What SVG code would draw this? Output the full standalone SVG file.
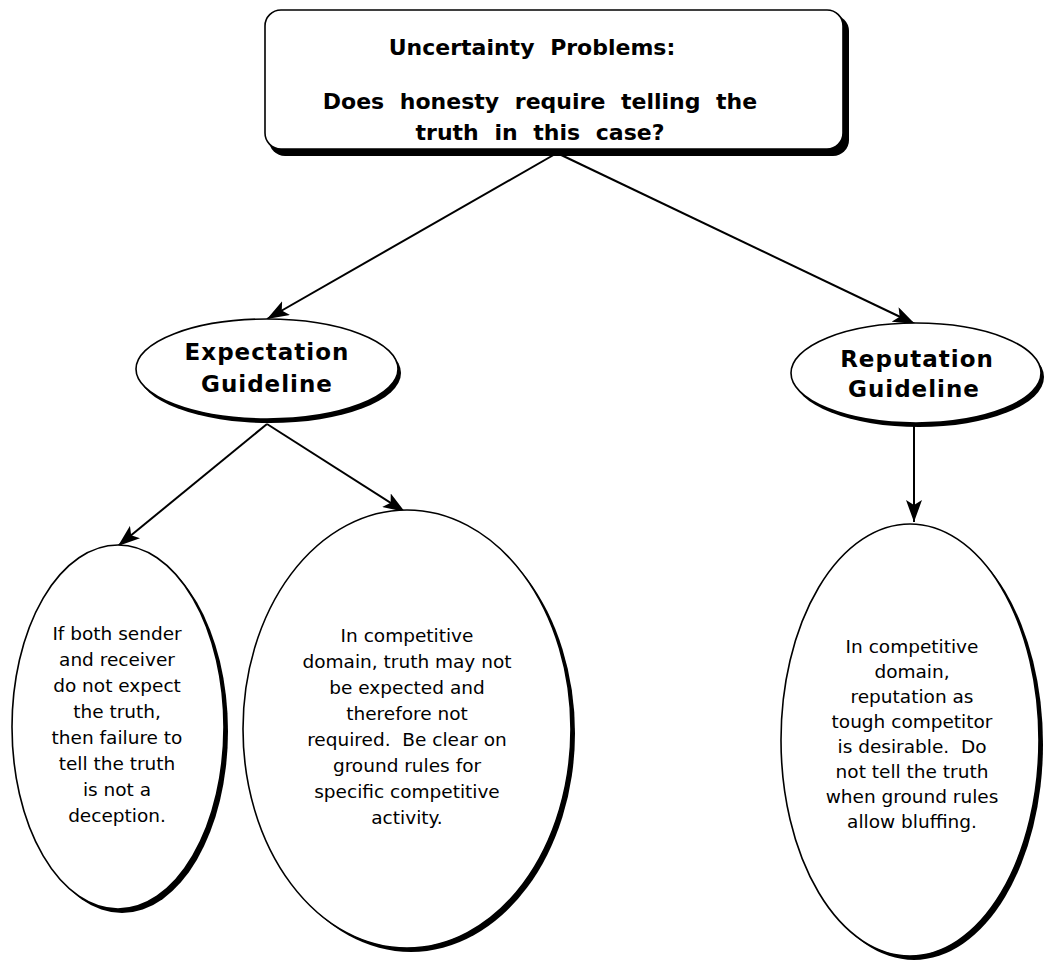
<svg xmlns="http://www.w3.org/2000/svg" width="1046" height="962" viewBox="0 0 1046 962">
<style>
.bg{fill:#ffffff}
.sh{fill:#000000}
.nd{fill:#ffffff;stroke:#000000;stroke-width:1.6}
.hd{font-family:"DejaVu Sans",sans-serif;font-weight:bold;font-size:22px;text-anchor:middle;word-spacing:8px;fill:#000}
.gl{font-family:"DejaVu Sans",sans-serif;font-weight:bold;font-size:23px;text-anchor:middle;letter-spacing:1px;fill:#000}
.bd{font-family:"DejaVu Sans",sans-serif;font-size:18.5px;text-anchor:middle;fill:#000}
.cn{stroke:#000;stroke-width:2;fill:none}
</style>
<defs>
<marker id="ah" markerUnits="userSpaceOnUse" markerWidth="24" markerHeight="16" refX="22" refY="8" orient="auto">
<path d="M0,0 L22,8 L0,16 L5,8 Z" fill="#000"/>
</marker>
</defs>
<rect class="bg" x="0" y="0" width="1046" height="962"/>
<g id="connectors">
<line class="cn" x1="557" y1="153" x2="267" y2="319" marker-end="url(#ah)"/>
<line class="cn" x1="557" y1="153" x2="915" y2="324" marker-end="url(#ah)"/>
<line class="cn" x1="267" y1="424" x2="118" y2="546" marker-end="url(#ah)"/>
<line class="cn" x1="267" y1="424" x2="405" y2="512" marker-end="url(#ah)"/>
<line class="cn" x1="914" y1="424" x2="914" y2="522" marker-end="url(#ah)"/>
</g>
<g id="problem">
<rect class="sh" x="269" y="15" width="580" height="141" rx="16"/>
<rect class="nd" x="265" y="10" width="578" height="139" rx="16"/>
<text class="hd" x="532" y="55">Uncertainty Problems:</text>
<text class="hd" x="540" y="109">Does honesty require telling the</text>
<text class="hd" x="540" y="140">truth in this case?</text>
</g>
<g id="expectation">
<ellipse class="sh" cx="270" cy="373" rx="131" ry="50"/>
<ellipse class="nd" cx="267" cy="369" rx="131" ry="50"/>
<text class="gl" x="267" y="360">Expectation</text>
<text class="gl" x="267" y="392">Guideline</text>
</g>
<g id="reputation">
<ellipse class="sh" cx="919" cy="377" rx="125" ry="50"/>
<ellipse class="nd" cx="916" cy="373" rx="125" ry="50"/>
<text class="gl" x="917" y="367">Reputation</text>
<text class="gl" x="914" y="397">Guideline</text>
</g>
<g id="no-expectation">
<ellipse class="sh" cx="122" cy="731" rx="106" ry="182"/>
<ellipse class="nd" cx="118" cy="727" rx="106" ry="182"/>
<text class="bd" x="117" y="640">If both sender</text>
<text class="bd" x="117" y="666">and receiver</text>
<text class="bd" x="117" y="692">do not expect</text>
<text class="bd" x="117" y="718">the truth,</text>
<text class="bd" x="117" y="744">then failure to</text>
<text class="bd" x="117" y="770">tell the truth</text>
<text class="bd" x="117" y="796">is not a</text>
<text class="bd" x="117" y="822">deception.</text>
</g>
<g id="competitive-domain">
<ellipse class="sh" cx="411" cy="733" rx="164" ry="219"/>
<ellipse class="nd" cx="407" cy="729" rx="164" ry="219"/>
<text class="bd" x="407" y="642">In competitive</text>
<text class="bd" x="407" y="668">domain, truth may not</text>
<text class="bd" x="407" y="694">be expected and</text>
<text class="bd" x="407" y="720">therefore not</text>
<text class="bd" x="407" y="746">required.&#160; Be clear on</text>
<text class="bd" x="407" y="772">ground rules for</text>
<text class="bd" x="407" y="798">specific competitive</text>
<text class="bd" x="407" y="824">activity.</text>
</g>
<g id="reputation-text">
<ellipse class="sh" cx="914" cy="744" rx="129" ry="216"/>
<ellipse class="nd" cx="910" cy="740" rx="129" ry="216"/>
<text class="bd" x="912" y="653">In competitive</text>
<text class="bd" x="912" y="678">domain,</text>
<text class="bd" x="912" y="703">reputation as</text>
<text class="bd" x="912" y="728">tough competitor</text>
<text class="bd" x="912" y="753">is desirable.&#160; Do</text>
<text class="bd" x="912" y="778">not tell the truth</text>
<text class="bd" x="912" y="803">when ground rules</text>
<text class="bd" x="912" y="828">allow bluffing.</text>
</g>
</svg>
